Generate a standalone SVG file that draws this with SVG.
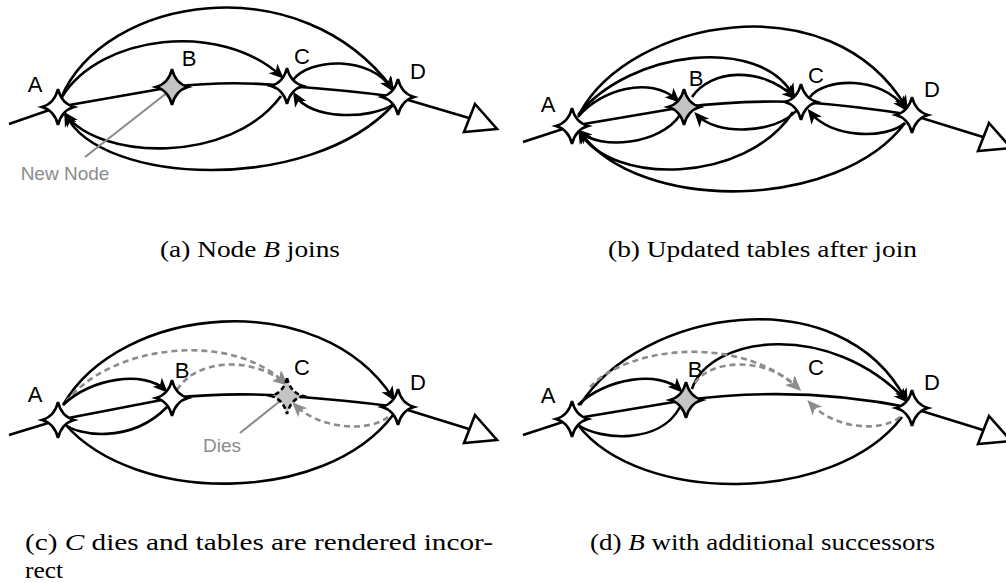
<svg xmlns="http://www.w3.org/2000/svg" width="1006" height="583" viewBox="0 0 1006 583">
<style>
.ln{fill:none;stroke:#000;stroke-width:2.6}
.ar{fill:none;stroke:#000;stroke-width:2.6;marker-end:url(#ah)}
.dg{fill:none;stroke:#8c8c8c;stroke-width:2.6;stroke-dasharray:6 4;marker-end:url(#ahg)}
.gl{fill:none;stroke:#8c8c8c;stroke-width:2.2}
.star{fill:#fff;stroke:#000;stroke-width:2.6}
.starg{fill:#c4c4c4;stroke:#000;stroke-width:2.6}
.stard{fill:#c4c4c4;stroke:#000;stroke-width:2.6;stroke-dasharray:5 3}
.tri{fill:#fff;stroke:#000;stroke-width:2.6}
.lbl{font-family:"Liberation Sans",Arial,sans-serif;font-size:22px;fill:#000;text-anchor:middle}
.glbl{font-family:"Liberation Sans",Arial,sans-serif;font-size:19px;fill:#8c8c8c;text-anchor:middle}
.cap{font-family:"Liberation Serif","Times New Roman",serif;font-size:23px;fill:#000}
</style>
<defs>
<marker id="ah" markerWidth="17" markerHeight="14" refX="12" refY="7" orient="auto" markerUnits="userSpaceOnUse" viewBox="0 0 17 14"><path d="M16,7 L1,0.5 L5,7 L1,13.5 Z" fill="#000"/></marker>
<marker id="ahg" markerWidth="17" markerHeight="14" refX="12" refY="7" orient="auto" markerUnits="userSpaceOnUse" viewBox="0 0 17 14"><path d="M16,7 L1,0.5 L5,7 L1,13.5 Z" fill="#8c8c8c"/></marker>
<path id="st" d="M0,-18 Q3.5,-3.5 16,0 Q3.5,3.5 0,18 Q-3.5,3.5 -16,0 Q-3.5,-3.5 0,-18 Z"/>
</defs>
<rect width="1006" height="583" fill="#fff"/>

<g id="connectors">
  <!-- panel a -->
  <path class="ln" d="M9,124 L58,107 L172,87 Q230,80 287,86 Q345,90 398,97 L469,118"/>
  <path class="ar" d="M61,98 C105,-5 300,-35 392,88"/>
  <path class="ar" d="M62,97 C100,35 220,20 281,76"/>
  <path class="ar" d="M293,80 C310,58 370,55 392,89"/>
  <path class="ar" d="M394,104 C370,120 310,120 295,95"/>
  <path class="ar" d="M281,96 C230,165 100,160 66,115"/>
  <path class="ar" d="M393,105 C310,195 100,185 66,115"/>
  <path class="gl" d="M168,92 L85,157"/>
  <!-- panel b -->
  <path class="ln" d="M523,142 L572,126 L684,107 Q742,100 801,102 Q857,106 912,115 L983,137"/>
  <path class="ar" d="M580,113 C630,20 830,-20 906,107"/>
  <path class="ar" d="M578,115 C630,50 760,35 793,95"/>
  <path class="ar" d="M578,117 C600,90 650,75 677,100"/>
  <path class="ar" d="M692,97 C710,70 760,65 794,97"/>
  <path class="ar" d="M810,97 C825,78 880,75 905,108"/>
  <path class="ar" d="M905,123 C885,140 830,138 810,112"/>
  <path class="ar" d="M797,110 C775,135 715,135 697,115"/>
  <path class="ar" d="M680,115 C660,145 600,150 580,132"/>
  <path class="ar" d="M793,112 C745,185 610,185 580,132"/>
  <path class="ar" d="M905,123 C840,210 640,215 580,132"/>
  <!-- panel c -->
  <path class="ln" d="M9,435 L58,420 L172,398 Q230,392 287,396 Q345,400 398,407 L469,429"/>
  <path class="ar" d="M63,405 C120,305 320,285 393,398"/>
  <path class="dg" d="M66,402 C110,345 230,330 285,383"/>
  <path class="dg" d="M177,390 C195,360 250,355 285,383"/>
  <path class="ar" d="M63,405 C90,378 145,370 165,390"/>
  <path class="ln" d="M167,407 C130,445 75,435 65,424"/>
  <path class="ln" d="M393,415 C325,505 135,505 65,424"/>
  <path class="dg" d="M388,417 C370,432 320,430 295,405"/>
  <path class="gl" d="M280,401 L240,433"/>
  <!-- panel d -->
  <path class="ln" d="M523,435 L572,419 L686,400 Q800,385 912,408 L983,430"/>
  <path class="ar" d="M580,405 C640,310 840,275 906,400"/>
  <path class="ar" d="M692,389 C710,335 830,320 906,400"/>
  <path class="dg" d="M590,387 C630,345 740,335 798,388"/>
  <path class="dg" d="M695,383 C710,360 765,355 798,388"/>
  <path class="ar" d="M578,405 C605,378 660,370 680,390"/>
  <path class="ln" d="M680,407 C660,445 600,440 578,425"/>
  <path class="ln" d="M902,417 C835,505 640,505 578,425"/>
  <path class="dg" d="M900,417 C882,432 835,430 810,403"/>
</g>

<!-- panel a nodes -->
<g id="a-A"><use href="#st" class="star" x="58" y="107"/><text class="lbl" x="35" y="92">A</text></g>
<g id="a-B"><use href="#st" class="starg" x="172" y="87"/><text class="lbl" x="189" y="66">B</text></g>
<g id="a-C"><use href="#st" class="star" x="287" y="86"/><text class="lbl" x="302" y="64">C</text></g>
<g id="a-D"><use href="#st" class="star" x="398" y="97"/><text class="lbl" x="418" y="79">D</text></g>
<g id="a-end"><polygon class="tri" points="475,104 497,129 464,132"/></g>
<g id="a-note"><text class="glbl" x="65" y="180">New Node</text></g>

<!-- panel b nodes -->
<g id="b-A"><use href="#st" class="star" x="572" y="126"/><text class="lbl" x="548" y="112">A</text></g>
<g id="b-B"><use href="#st" class="starg" x="684" y="107"/><text class="lbl" x="696" y="86">B</text></g>
<g id="b-C"><use href="#st" class="star" x="801" y="102"/><text class="lbl" x="816" y="83">C</text></g>
<g id="b-D"><use href="#st" class="star" x="912" y="115"/><text class="lbl" x="932" y="97">D</text></g>
<g id="b-end"><polygon class="tri" points="989,123 1011,148 978,151"/></g>

<!-- panel c nodes -->
<g id="c-A"><use href="#st" class="star" x="58" y="420"/><text class="lbl" x="35" y="402">A</text></g>
<g id="c-B"><use href="#st" class="star" x="172" y="398"/><text class="lbl" x="182" y="378">B</text></g>
<g id="c-C"><use href="#st" class="stard" x="287" y="396"/><text class="lbl" x="302" y="375">C</text></g>
<g id="c-D"><use href="#st" class="star" x="398" y="407"/><text class="lbl" x="418" y="390">D</text></g>
<g id="c-end"><polygon class="tri" points="475,415 497,440 464,443"/></g>
<g id="c-note"><text class="glbl" x="222" y="452">Dies</text></g>

<!-- panel d nodes -->
<g id="d-A"><use href="#st" class="star" x="572" y="419"/><text class="lbl" x="548" y="403">A</text></g>
<g id="d-B"><use href="#st" class="starg" x="686" y="400"/><text class="lbl" x="695" y="377">B</text></g>
<g id="d-C"><text class="lbl" x="816" y="375">C</text></g>
<g id="d-D"><use href="#st" class="star" x="912" y="408"/><text class="lbl" x="932" y="390">D</text></g>
<g id="d-end"><polygon class="tri" points="989,416 1011,441 978,444"/></g>

<!-- captions -->
<g id="captions">
<text class="cap" x="160" y="257" textLength="180" lengthAdjust="spacingAndGlyphs">(a) Node <tspan font-style="italic">B</tspan> joins</text>
<text class="cap" x="608" y="257" textLength="309" lengthAdjust="spacingAndGlyphs">(b) Updated tables after join</text>
<text class="cap" x="25" y="550" textLength="468" lengthAdjust="spacingAndGlyphs">(c) <tspan font-style="italic">C</tspan> dies and tables are rendered incor-</text>
<text class="cap" x="25" y="578" textLength="38" lengthAdjust="spacingAndGlyphs">rect</text>
<text class="cap" x="590" y="550" textLength="345" lengthAdjust="spacingAndGlyphs">(d) <tspan font-style="italic">B</tspan> with additional successors</text>
</g>
</svg>
